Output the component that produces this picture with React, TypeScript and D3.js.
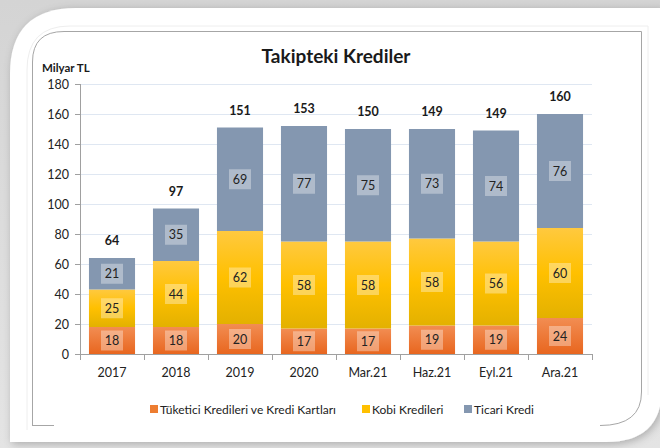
import React from "react";
import * as d3 from "d3";

const categories = ["2017", "2018", "2019", "2020", "Mar.21", "Haz.21", "Eyl.21", "Ara.21"];
const tuketici = [18, 18, 20, 17, 17, 19, 19, 24];
const kobi = [25, 44, 62, 58, 58, 58, 56, 60];
const ticari = [21, 35, 69, 77, 75, 73, 74, 76];
const totals = [64, 97, 151, 153, 150, 149, 149, 160];
const yTicks = [0, 20, 40, 60, 80, 100, 120, 140, 160, 180];
const seriesNames = ["Tüketici Kredileri ve Kredi Kartları", "Kobi Kredileri", "Ticari Kredi"];

const W = 660;
const H = 448;
const FONT = "Lato, 'Open Sans', sans-serif";

export default function App() {
  const x = d3.scaleBand<string>().domain(categories).range([80, 592]).paddingInner(0.28).paddingOuter(0.14);
  const y = d3.scaleLinear().domain([0, 180]).range([354, 84]);
  const series = [tuketici, kobi, ticari];
  const fills = ["url(#gOrange)", "url(#gYellow)", "#8497b0"];
  const legendFills = ["#ed7d31", "#ffc000", "#8497b0"];

  const stacked = categories.map((c, i) => {
    let acc = 0;
    return series.map((s, k) => {
      const y0 = acc;
      acc += s[i];
      return { k, y0, y1: acc, v: s[i] };
    });
  });

  const legendX = [150, 362, 464];

  return (
    <div style={{ position: "absolute", left: 0, top: 0 }}>
      <svg width={W} height={H} style={{ display: "block" }}>
        <defs>
          <linearGradient id="bg" x1="0" y1="0" x2="0" y2="1">
            <stop offset="0" stopColor="#d4d4d4" />
            <stop offset="1" stopColor="#e4e4e4" />
          </linearGradient>
          <linearGradient id="gOrange" x1="0" y1="0" x2="0" y2="1">
            <stop offset="0" stopColor="#f28d52" />
            <stop offset="1" stopColor="#e8661f" />
          </linearGradient>
          <linearGradient id="gYellow" x1="0" y1="0" x2="0" y2="1">
            <stop offset="0" stopColor="#ffc93f" />
            <stop offset="0.5" stopColor="#ffc000" />
            <stop offset="1" stopColor="#e3b100" />
          </linearGradient>
          <linearGradient id="gBlue" x1="0" y1="0" x2="1" y2="0">
            <stop offset="0" stopColor="#a7bde3" />
            <stop offset="0.85" stopColor="#a7bde3" />
            <stop offset="1" stopColor="#a7bde3" stopOpacity="0" />
          </linearGradient>
          <filter id="shadow" x="-5%" y="-5%" width="110%" height="110%">
            <feGaussianBlur in="SourceAlpha" stdDeviation="4" />
            <feOffset dx="2" dy="2" result="b" />
            <feFlood floodColor="#000" floodOpacity="0.25" />
            <feComposite in2="b" operator="in" />
            <feMerge>
              <feMergeNode />
              <feMergeNode in="SourceGraphic" />
            </feMerge>
          </filter>
        </defs>
        <rect x={0} y={0} width={W} height={H} fill="url(#bg)" />
        <path
          d="M10,74 Q10,8 76,8 L662,8 L662,388 Q662,442 606,442 L10,442 Z"
          fill="#ffffff"
          filter="url(#shadow)"
        />
        {/* faint inner rounded outline */}
        <path d="M27,430 L27,70 Q27,26 70,26 L648,26 L648,395" fill="none" stroke="#eeeeee" strokeWidth={1} />
        {/* chart area border */}
        <path d="M32.5,425.5 L32.5,62 Q32.5,31.5 64,31.5 L641.5,31.5 L641.5,392 Q641.5,425.5 600,425.5" fill="none" stroke="#a6a6a6" strokeWidth={1} />
        <line x1={32} x2={54} y1={425.5} y2={425.5} stroke="#a6a6a6" />
        <line x1={54} x2={610} y1={424.5} y2={424.5} stroke="url(#gBlue)" strokeWidth={2} />

        {/* title */}
        <text x={336} y={63} textAnchor="middle" fontFamily={FONT} fontWeight="bold" fontSize={19} fill="#1a1a1a">
          Takipteki Krediler
        </text>
        <text x={42} y={72} fontFamily={FONT} fontWeight="bold" fontSize={11.5} fill="#1a1a1a">
          Milyar TL
        </text>

        {/* gridlines */}
        {yTicks.filter((t) => t > 0).map((t) => (
          <line key={t} x1={80} x2={592} y1={Math.round(y(t)) + 0.5} y2={Math.round(y(t)) + 0.5} stroke="#dfe7f2" strokeWidth={1.2} />
        ))}

        {/* bars */}
        {stacked.map((segs, i) =>
          segs.map((s) => {
            const x0 = x(categories[i])!;
            const top = y(s.y1);
            const bot = y(s.y0);
            return (
              <rect key={`${i}-${s.k}`} x={x0} y={top} width={x.bandwidth()} height={bot - top} fill={fills[s.k]} />
            );
          })
        )}

        {/* value labels */}
        {stacked.map((segs, i) =>
          segs.map((s) => {
            const cx = x(categories[i])! + x.bandwidth() / 2;
            const cy = (y(s.y0) + y(s.y1)) / 2;
            return (
              <g key={`l${i}-${s.k}`}>
                <rect x={cx - 11} y={cy - 10} width={22} height={20} fill="#ffffff" fillOpacity={0.35} />
                <text x={cx} y={cy + 4.5} textAnchor="middle" fontFamily={FONT} fontSize={12.5} fill="#222">
                  {s.v}
                </text>
              </g>
            );
          })
        )}

        {/* totals */}
        {totals.map((t, i) => (
          <text
            key={`t${i}`}
            x={x(categories[i])! + x.bandwidth() / 2}
            y={y(stacked[i][2].y1) - 13}
            textAnchor="middle"
            fontFamily={FONT}
            fontWeight="bold"
            fontSize={12.5}
            fill="#1a1a1a"
          >
            {t}
          </text>
        ))}

        {/* y axis */}
        <line x1={80.5} x2={80.5} y1={y(180)} y2={y(0)} stroke="#a0a0a0" />
        {yTicks.map((t) => (
          <g key={`yt${t}`}>
            <line x1={75} x2={80} y1={Math.round(y(t)) + 0.5} y2={Math.round(y(t)) + 0.5} stroke="#a0a0a0" />
            <text x={69} y={y(t) + 4.5} textAnchor="end" fontFamily={FONT} fontSize={12.5} fill="#222">
              {t}
            </text>
          </g>
        ))}

        {/* x axis */}
        <line x1={80} x2={592} y1={354.5} y2={354.5} stroke="#a0a0a0" />
        {categories.map((c, i) => {
          const bx = 80 + i * x.step();
          return <line key={`xt${i}`} x1={bx + 0.5} x2={bx + 0.5} y1={354} y2={360} stroke="#a0a0a0" />;
        })}
        <line x1={592.5} x2={592.5} y1={354} y2={360} stroke="#a0a0a0" />
        {categories.map((c) => (
          <text key={`xl${c}`} x={x(c)! + x.bandwidth() / 2} y={377} textAnchor="middle" fontFamily={FONT} fontSize={12.5} fill="#222">
            {c}
          </text>
        ))}

        {/* legend */}
        {seriesNames.map((n, k) => (
          <g key={`lg${k}`}>
            <rect x={legendX[k]} y={405} width={8} height={8} fill={legendFills[k]} />
            <text x={legendX[k] + 10} y={413.5} fontFamily={FONT} fontSize={12} fill="#222">
              {n}
            </text>
          </g>
        ))}
      </svg>
    </div>
  );
}
